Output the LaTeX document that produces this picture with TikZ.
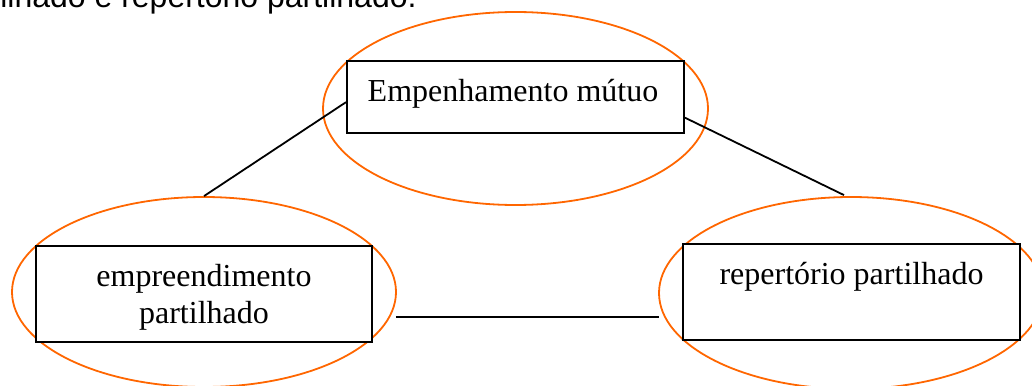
\documentclass[tikz,border=0pt]{standalone}
\usepackage{fontspec}
\setmainfont{Liberation Serif}
\newfontfamily\arialfont{Liberation Sans}
\usetikzlibrary{shapes.geometric,calc}
\definecolor{ringorange}{RGB}{255,102,0}
\begin{document}
\begin{tikzpicture}[x=1pt,y=-1pt,
  ovalring/.style={draw=ringorange,line width=1.8pt,ellipse,inner sep=0pt},
  boxframe/.style={draw=black,line width=2pt,rectangle,inner sep=0pt,fill=white},
  boxtext/.style={font=\fontsize{32}{37}\selectfont,inner sep=0pt,anchor=base},
  link/.style={draw=black,line width=1.8pt}]
\useasboundingbox (0,0) rectangle (1032,385);
\clip (0,0) rectangle (1032,385);
% heading fragment
\node[font=\arialfont\fontsize{32}{37}\selectfont,inner sep=0pt,anchor=base west] (head) at (-55,8) {partilhado e repertório partilhado.};
% ellipses
\node[ovalring,minimum width=385pt,minimum height=193pt] (te) at (515.5,108.5) {};
\node[ovalring,minimum width=384pt,minimum height=190pt] (le) at (204,292) {};
\node[ovalring,minimum width=384pt,minimum height=192pt] (re) at (851,293) {};
% boxes
\node[boxframe,minimum width=337pt,minimum height=72pt] (tb) at (515.5,97) {};
\node[boxframe,minimum width=336pt,minimum height=96pt] (lb) at (204,294) {};
\node[boxframe,minimum width=337pt,minimum height=96pt] (rb) at (851.5,292) {};
% texts
\node[boxtext] (tt) at (513,102) {Empenhamento mútuo};
\node[boxtext] (lt1) at (204,286) {empreendimento};
\node[boxtext] (lt2) at (204,323) {partilhado};
\node[boxtext] (rt) at (851.5,284) {repertório partilhado};
% connectors
\coordinate (tbl) at ($(tb.north west)!0.57!(tb.south west)$);
\coordinate (tbr) at ($(tb.north east)!0.78!(tb.south east)$);
\coordinate (lee) at ($(le.east)+(-1,25)$);
\coordinate (rew) at ($(re.west)+(1,24)$);
\draw[link] (tbl) -- (le.north);
\draw[link] (tbr) -- ($(re.north)+(-7,-1)$);
\draw[link] (lee) -- (rew);
\end{tikzpicture}
\end{document}
